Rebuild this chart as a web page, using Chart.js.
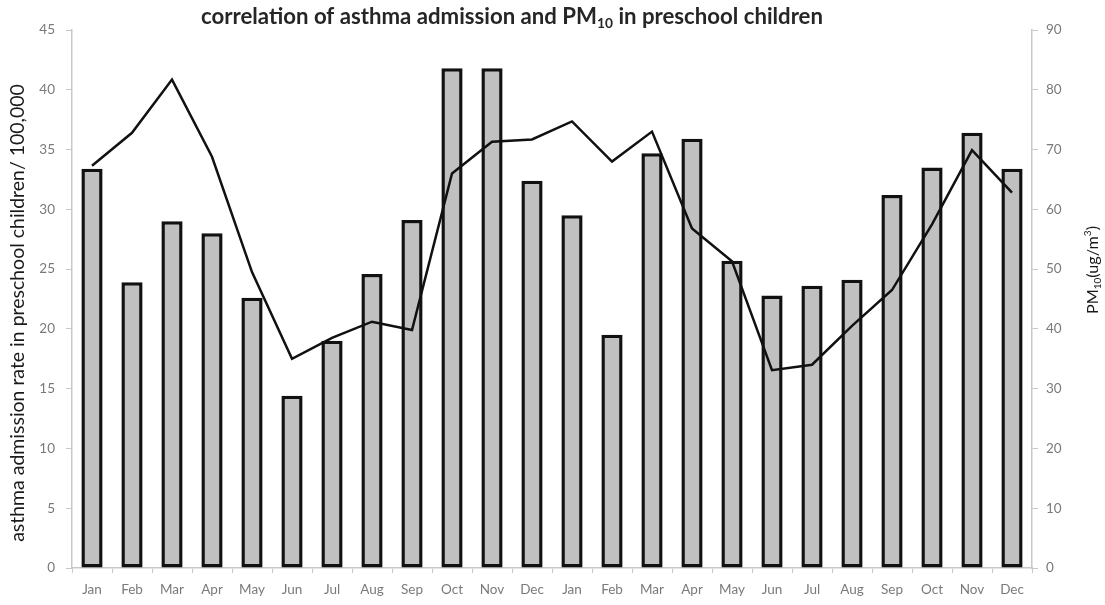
<!DOCTYPE html>
<html>
<head>
<meta charset="utf-8">
<script src="https://cdn.jsdelivr.net/npm/chart.js@4.4.1/dist/chart.umd.min.js"></script>
<style>
  html, body { margin: 0; padding: 0; background: #ffffff; }
  #wrap { width: 1105px; height: 605px; }
</style>
</head>
<body>
<div id="wrap"><canvas id="chart" width="1105" height="605"></canvas></div>
<script>
// Two years of monthly observations
const months = ['Jan','Feb','Mar','Apr','May','Jun','Jul','Aug','Sep','Oct','Nov','Dec',
                'Jan','Feb','Mar','Apr','May','Jun','Jul','Aug','Sep','Oct','Nov','Dec'];

// Asthma admissions per 100,000 preschool children (left axis)
const admissionRate = [33.4, 23.9, 29.0, 28.0, 22.6, 14.4, 19.0, 24.6, 29.1, 41.8, 41.8, 32.4,
                       29.5, 19.5, 34.7, 35.9, 25.7, 22.8, 23.6, 24.1, 31.2, 33.5, 36.4, 33.4];

// Monthly mean PM10 concentration, ug/m3 (right axis)
const pm10 = [67.3, 72.8, 81.7, 68.8, 49.5, 35.0, 38.5, 41.2, 39.8, 66.0, 71.3, 71.7,
              74.7, 68.0, 73.0, 56.8, 51.3, 33.1, 34.0, 40.5, 46.5, 57.5, 69.9, 62.8];

// Axis tick values
const leftTicks = [0, 5, 10, 15, 20, 25, 30, 35, 40, 45];
const rightTicks = [0, 10, 20, 30, 40, 50, 60, 70, 80, 90];

const FONT = 'Lato, "Open Sans", sans-serif';
const TICK_COLOR = '#7a7a7a';
const AXIS_COLOR = '#c8c8c8';

function partFont(p, size, weight) {
  return `${weight} ${p.sub || p.sup ? size * 0.62 : size}px ${FONT}`;
}

// Draws a run of text pieces (some lowered/raised and smaller), centred on cx,
// with the font size chosen so the whole run spans the given width
function drawRichText(ctx, parts, cx, cy, width, weight, color) {
  const measure = size => parts.reduce((sum, p) => {
    ctx.font = partFont(p, size, weight);
    return sum + ctx.measureText(p.text).width;
  }, 0);
  const size = 20 * width / measure(20);
  const total = measure(size);
  let x = cx - total / 2;
  ctx.fillStyle = color;
  ctx.textBaseline = 'middle';
  ctx.textAlign = 'left';
  parts.forEach(p => {
    ctx.font = partFont(p, size, weight);
    let y = cy;
    if (p.sub) y += size * 0.3;
    if (p.sup) y -= size * 0.32;
    ctx.fillText(p.text, x, y);
    x += ctx.measureText(p.text).width;
  });
}

const titlesPlugin = {
  id: 'titles',
  afterDraw(chart) {
    const ctx = chart.ctx;
    ctx.save();
    // chart title
    drawRichText(ctx, [
      { text: 'correlation of asthma admission and PM' },
      { text: '10', sub: true },
      { text: ' in preschool children' }
    ], 512, 17, 622, 'bold', '#262626');

    // left axis title
    ctx.save();
    ctx.translate(18, 313);
    ctx.rotate(-Math.PI / 2);
    drawRichText(ctx, [{ text: 'asthma admission rate in preschool children/ 100,000' }],
      0, 0, 458, 'normal', '#1a1a1a');
    ctx.restore();

    // right axis title
    ctx.save();
    ctx.translate(1093, 270);
    ctx.rotate(-Math.PI / 2);
    drawRichText(ctx, [
      { text: 'PM' }, { text: '10', sub: true },
      { text: '(ug/m' }, { text: '3', sup: true }, { text: ')' }
    ], 0, 0, 88, 'normal', '#1a1a1a');
    ctx.restore();
    ctx.restore();
  }
};

new Chart(document.getElementById('chart'), {
  data: {
    labels: months,
    datasets: [
      {
        type: 'line',
        label: 'PM10',
        data: pm10,
        yAxisID: 'yRight',
        borderColor: '#111111',
        borderWidth: 2.5,
        pointRadius: 0,
        tension: 0,
        fill: false,
        order: 0
      },
      {
        type: 'bar',
        label: 'asthma admission rate',
        data: admissionRate,
        yAxisID: 'yLeft',
        backgroundColor: '#c0c0c0',
        borderColor: '#111111',
        borderWidth: 3.5,
        borderSkipped: false,
        barPercentage: 0.53,
        categoryPercentage: 1.0,
        order: 1
      }
    ]
  },
  options: {
    responsive: false,
    animation: false,
    layout: { padding: { top: 30, left: 0, right: 0, bottom: 0 } },
    plugins: {
      legend: { display: false },
      title: { display: false },
      tooltip: { enabled: false }
    },
    scales: {
      x: {
        offset: true,
        grid: {
          display: true,
          offset: true,
          drawOnChartArea: false,
          drawTicks: true,
          tickLength: 5,
          color: AXIS_COLOR
        },
        border: { display: true, color: AXIS_COLOR, width: 1.5 },
        ticks: {
          color: TICK_COLOR,
          font: { family: FONT, size: 13.5 },
          maxRotation: 0,
          autoSkip: false,
          padding: 9
        },
        afterFit(scale) { scale.height = 37; }
      },
      yLeft: {
        position: 'left',
        min: 0,
        max: 45,
        afterBuildTicks(scale) { scale.ticks = leftTicks.map(v => ({ value: v })); },
        grid: {
          drawOnChartArea: false,
          drawTicks: true,
          tickLength: 6,
          color: AXIS_COLOR
        },
        border: { display: true, color: AXIS_COLOR, width: 1.5 },
        ticks: {
          color: TICK_COLOR,
          font: { family: FONT, size: 13.5 },
          padding: 11
        },
        afterFit(scale) { scale.width = 72; }
      },
      yRight: {
        position: 'right',
        min: 0,
        max: 90,
        afterBuildTicks(scale) { scale.ticks = rightTicks.map(v => ({ value: v })); },
        grid: {
          drawOnChartArea: false,
          drawTicks: true,
          tickLength: 6,
          color: AXIS_COLOR
        },
        border: { display: true, color: AXIS_COLOR, width: 1.5 },
        ticks: {
          color: TICK_COLOR,
          font: { family: FONT, size: 13.5 },
          padding: 8
        },
        afterFit(scale) { scale.width = 73; }
      }
    }
  },
  plugins: [titlesPlugin]
});
</script>
</body>
</html>
